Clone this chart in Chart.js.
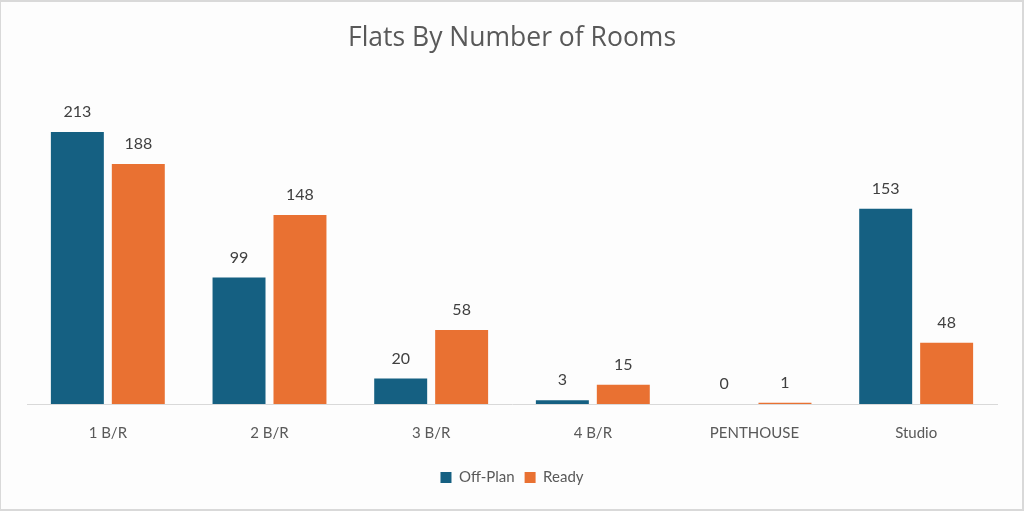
<!DOCTYPE html>
<html>
<head>
<meta charset="utf-8">
<script src="https://cdn.jsdelivr.net/npm/chart.js@4/dist/chart.umd.min.js"></script>
<style>
	body { margin: 0; background: #ffffff; }
	#wrap { position: relative; width: 1024px; height: 511px; background: #fdfdfd; }
	#frame { position: absolute; inset: 0; border: 2px solid #d9d9d9; border-left-width: 1px; pointer-events: none; box-sizing: border-box; }
	canvas { position: absolute; left: 0; top: 0; }
</style>
</head>
<body>
<div id="wrap">
	<canvas id="chart" width="1024" height="511"></canvas>
	<div id="frame"></div>
</div>
<script>
const categories = ["1 B/R", "2 B/R", "3 B/R", "4 B/R", "PENTHOUSE", "Studio"];
const offPlan = [213, 99, 20, 3, 0, 153];
const ready = [188, 148, 58, 15, 1, 48];

const fontFamily = "Lato, 'Open Sans', sans-serif";

// draws the number above each bar
const barValues = {
	id: "barValues",
	afterDatasetsDraw(chart) {
		const ctx = chart.ctx;
		ctx.save();
		ctx.font = "16px " + fontFamily;
		ctx.fillStyle = "#404040";
		ctx.textAlign = "center";
		ctx.textBaseline = "middle";
		chart.data.datasets.forEach((ds, i) => {
			chart.getDatasetMeta(i).data.forEach((bar, j) => {
				ctx.fillText(ds.data[j], bar.x, bar.y - 20);
			});
		});
		ctx.restore();
	},
};

const config = {
	type: "bar",
	data: {
		labels: categories,
		datasets: [
			{
				label: "Off-Plan",
				data: offPlan,
				backgroundColor: "#156082",
				categoryPercentage: 0.754,
				barPercentage: 0.869,
			},
			{
				label: "Ready",
				data: ready,
				backgroundColor: "#e97132",
				categoryPercentage: 0.754,
				barPercentage: 0.869,
			},
		],
	},
	options: {
		responsive: false,
		animation: false,
		layout: {
			padding: { left: 27, right: 27, top: 0, bottom: 16 },
		},
		scales: {
			x: {
				grid: { display: false },
				border: { color: "#d9d9d9", width: 1 },
				ticks: {
					color: "#595959",
					font: { family: fontFamily, size: 15 },
					padding: 12,
				},
				afterFit(scale) {
					scale.height += 6;
				},
			},
			y: {
				display: false,
				min: 0,
				max: 250,
			},
		},
		plugins: {
			title: {
				display: true,
				text: "Flats By Number of Rooms",
				color: "#595959",
				font: { family: "'Open Sans', sans-serif", size: 26.5, weight: "normal" },
				padding: { top: 23, bottom: 30 },
			},
			legend: {
				position: "bottom",
				labels: {
					color: "#595959",
					font: { family: fontFamily, size: 15 },
					boxWidth: 11,
					boxHeight: 11,
					padding: 10,
				},
			},
			tooltip: { enabled: false },
		},
	},
	plugins: [barValues],
};

new Chart(document.getElementById("chart"), config);
</script>
</body>
</html>
